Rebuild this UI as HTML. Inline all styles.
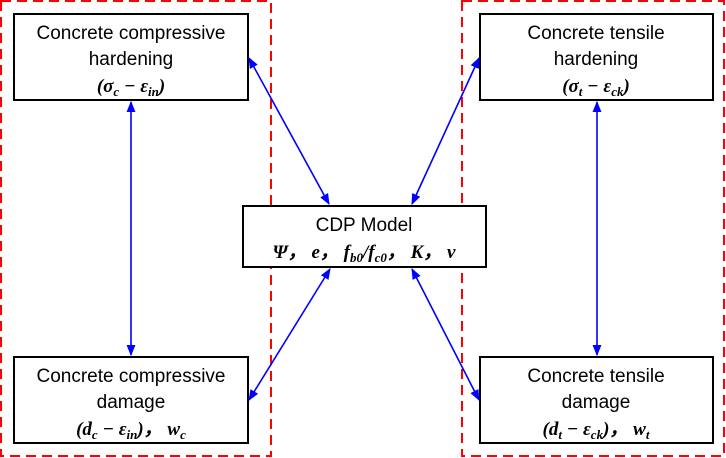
<!DOCTYPE html>
<html><head><meta charset="utf-8"><style>
html,body{margin:0;padding:0;background:#fff;}
svg{display:block;}
.t{font-family:"Liberation Sans",sans-serif;font-size:19px;fill:#000;text-anchor:middle;}
.m{font-family:"Liberation Serif",serif;font-size:19px;font-weight:bold;font-style:italic;fill:#000;text-anchor:middle;}
</style></head><body>
<svg width="726" height="458" viewBox="0 0 726 458" xmlns="http://www.w3.org/2000/svg">
<defs>
<marker id="a" viewBox="0 0 10 10" refX="9" refY="5" markerWidth="7" markerHeight="7" orient="auto-start-reverse"><path d="M0,1 L10,5 L0,9 z" fill="#00f"/></marker>
</defs>
<g fill="none" stroke="#f00" stroke-width="2" stroke-dasharray="10,6">
<rect x="1" y="1" width="270" height="455"/>
<rect x="462" y="1" width="262" height="455"/>
</g>
<g fill="#fff" stroke="#000" stroke-width="2">
<rect x="14" y="14" width="234" height="86"/>
<rect x="480" y="14" width="233" height="86"/>
<rect x="243" y="206" width="243" height="61"/>
<rect x="14" y="357" width="234" height="86"/>
<rect x="480" y="357" width="233" height="86"/>
</g>
<g stroke="#00f" stroke-width="1.6" marker-start="url(#a)" marker-end="url(#a)">
<line x1="131" y1="102" x2="131" y2="355"/>
<line x1="597" y1="102" x2="597" y2="355"/>
<line x1="249" y1="58" x2="329" y2="204"/>
<line x1="479" y1="58" x2="412" y2="204"/>
<line x1="249" y1="400" x2="330" y2="269"/>
<line x1="479" y1="400" x2="412" y2="269"/>
</g>
<text class="t" x="131" y="39">Concrete compressive</text>
<text class="t" x="131" y="65">hardening</text>
<text class="m" x="131" y="92">(σ<tspan font-size="13" dy="4">c</tspan><tspan dy="-4"> − ε</tspan><tspan font-size="13" dy="4">in</tspan><tspan dy="-4">)</tspan></text>
<text class="t" x="596" y="39">Concrete tensile</text>
<text class="t" x="596" y="65">hardening</text>
<text class="m" x="596" y="92">(σ<tspan font-size="13" dy="4">t</tspan><tspan dy="-4"> − ε</tspan><tspan font-size="13" dy="4">ck</tspan><tspan dy="-4">)</tspan></text>
<text class="t" x="364" y="231">CDP Model</text>
<text class="m" x="364" y="258">Ψ，  e，  f<tspan font-size="13" dy="4">b0</tspan><tspan dy="-4">/f</tspan><tspan font-size="13" dy="4">c0</tspan><tspan dy="-4">，  K，  v</tspan></text>
<text class="t" x="131" y="382">Concrete compressive</text>
<text class="t" x="131" y="408">damage</text>
<text class="m" x="131" y="435">(d<tspan font-size="13" dy="4">c</tspan><tspan dy="-4"> − ε</tspan><tspan font-size="13" dy="4">in</tspan><tspan dy="-4">)，  w</tspan><tspan font-size="13" dy="4">c</tspan></text>
<text class="t" x="596" y="382">Concrete tensile</text>
<text class="t" x="596" y="408">damage</text>
<text class="m" x="596" y="435">(d<tspan font-size="13" dy="4">t</tspan><tspan dy="-4"> − ε</tspan><tspan font-size="13" dy="4">ck</tspan><tspan dy="-4">)，  w</tspan><tspan font-size="13" dy="4">t</tspan></text>
</svg>
</body></html>
